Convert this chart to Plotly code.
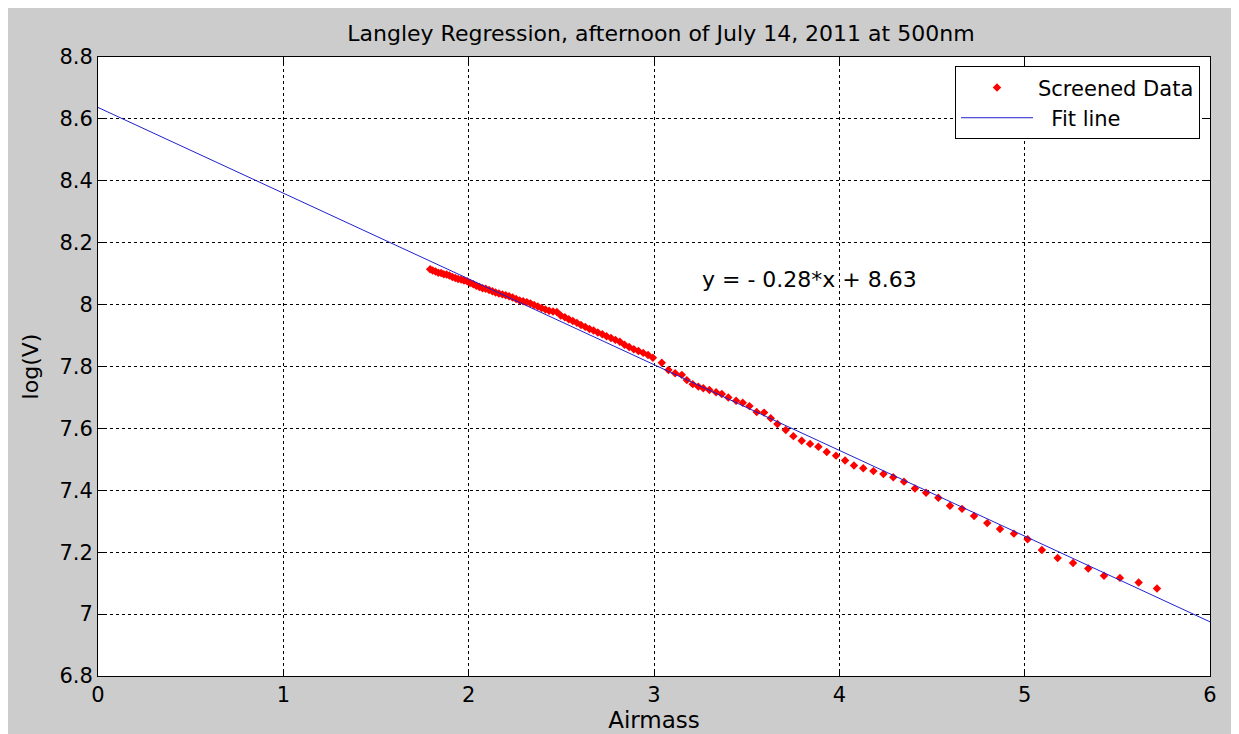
import plotly.graph_objects as go

# Screened data (airmass, log(V))
airmass = [
    1.792, 1.806, 1.821, 1.836, 1.851, 1.866, 1.881, 1.896, 1.912, 1.928,
    1.943, 1.959, 1.975, 1.992, 2.008, 2.025, 2.041, 2.058, 2.075, 2.092,
    2.110, 2.128, 2.145, 2.163, 2.182, 2.200, 2.218, 2.237, 2.256, 2.275,
    2.294, 2.314, 2.333, 2.353, 2.373, 2.393, 2.414, 2.434, 2.455, 2.476,
    2.497, 2.519, 2.540, 2.562, 2.584, 2.606, 2.629, 2.652, 2.674, 2.697,
    2.721, 2.744, 2.768, 2.792, 2.816, 2.841, 2.866, 2.891, 2.916, 2.942,
    2.968, 2.994, 3.042, 3.078, 3.114, 3.150, 3.177, 3.209, 3.239, 3.266,
    3.299, 3.335, 3.366, 3.401, 3.443, 3.479, 3.515, 3.554, 3.594, 3.630,
    3.666, 3.711, 3.752, 3.797, 3.842, 3.887, 3.932, 3.982, 4.031, 4.079,
    4.129, 4.184, 4.238, 4.291, 4.349, 4.408, 4.468, 4.534, 4.597, 4.662,
    4.727, 4.798, 4.867, 4.942, 5.016, 5.093, 5.178, 5.261, 5.343, 5.428,
    5.514, 5.615, 5.714,
]
logv = [
    8.114, 8.110, 8.107, 8.103, 8.102, 8.098, 8.097, 8.094, 8.089, 8.086,
    8.083, 8.081, 8.078, 8.075, 8.070, 8.066, 8.061, 8.057, 8.053, 8.051,
    8.047, 8.043, 8.039, 8.036, 8.033, 8.030, 8.027, 8.023, 8.018, 8.013,
    8.011, 8.008, 8.004, 7.999, 7.994, 7.989, 7.984, 7.980, 7.978, 7.976,
    7.965, 7.959, 7.953, 7.947, 7.941, 7.934, 7.928, 7.921, 7.916, 7.910,
    7.904, 7.898, 7.892, 7.886, 7.880, 7.870, 7.863, 7.856, 7.850, 7.844,
    7.837, 7.828, 7.812, 7.789, 7.778, 7.773, 7.756, 7.743, 7.735, 7.730,
    7.724, 7.717, 7.711, 7.700, 7.689, 7.683, 7.672, 7.653, 7.651, 7.633,
    7.614, 7.595, 7.575, 7.560, 7.550, 7.541, 7.524, 7.512, 7.496, 7.480,
    7.471, 7.462, 7.453, 7.442, 7.428, 7.406, 7.392, 7.376, 7.350, 7.340,
    7.317, 7.294, 7.275, 7.260, 7.242, 7.207, 7.181, 7.165, 7.147, 7.124,
    7.117, 7.102, 7.083,
]

# Fit line endpoints
fit_x = [0, 6]
fit_y = [8.637, 6.975]

x_ticks = [0, 1, 2, 3, 4, 5, 6]
y_ticks = [6.8, 7.0, 7.2, 7.4, 7.6, 7.8, 8.0, 8.2, 8.4, 8.6, 8.8]
y_tick_text = ["6.8", "7", "7.2", "7.4", "7.6", "7.8", "8", "8.2", "8.4", "8.6", "8.8"]

FONT = "DejaVu Sans"

fig = go.Figure()
fig.add_trace(go.Scatter(
    x=airmass, y=logv, mode="markers", name="Screened Data",
    marker=dict(symbol="diamond", size=6.5, color="#ff0000", line=dict(width=0)),
))
fig.add_trace(go.Scatter(
    x=fit_x, y=fit_y, mode="lines", name="  Fit line",
    line=dict(color="#2020d0", width=1),
))

axis_common = dict(
    showline=True, linecolor="black", linewidth=1, mirror="ticks",
    ticks="inside", ticklen=7, tickcolor="black",
    showgrid=True, gridcolor="black", gridwidth=1, griddash="3px,3px",
    zeroline=False,
    tickfont=dict(family=FONT, size=21, color="black"),
)

fig.update_xaxes(
    range=[0, 6], tickvals=x_ticks, ticktext=[str(v) for v in x_ticks],
    title=dict(text="Airmass", font=dict(family=FONT, size=23, color="black"), standoff=4),
    **axis_common,
)
fig.update_yaxes(
    range=[6.8, 8.8], tickvals=y_ticks, ticktext=y_tick_text,
    title=dict(text="log(V)", font=dict(family=FONT, size=22, color="black"), standoff=14),
    **axis_common,
)

fig.add_annotation(
    x=3.837, y=8.080, xref="x", yref="y", text="y = - 0.28*x + 8.63",
    showarrow=False, font=dict(family=FONT, size=22, color="black"),
    xanchor="center", yanchor="middle",
)

fig.update_layout(
    width=1239, height=734,
    margin=dict(l=90, r=37, t=49, b=66),
    paper_bgcolor="#cccccc", plot_bgcolor="white",
    title=dict(text="Langley Regression, afternoon of July 14, 2011 at 500nm",
               x=0.527, xanchor="center", y=0.966, yanchor="middle",
               font=dict(family=FONT, size=22, color="black")),
    legend=dict(x=0.991, y=0.985, xanchor="right", yanchor="top",
                bgcolor="white", bordercolor="black", borderwidth=1,
                font=dict(family=FONT, size=21, color="black"),
                itemwidth=72, tracegroupgap=0),
    showlegend=True,
)

fig.write_html("out.html")
